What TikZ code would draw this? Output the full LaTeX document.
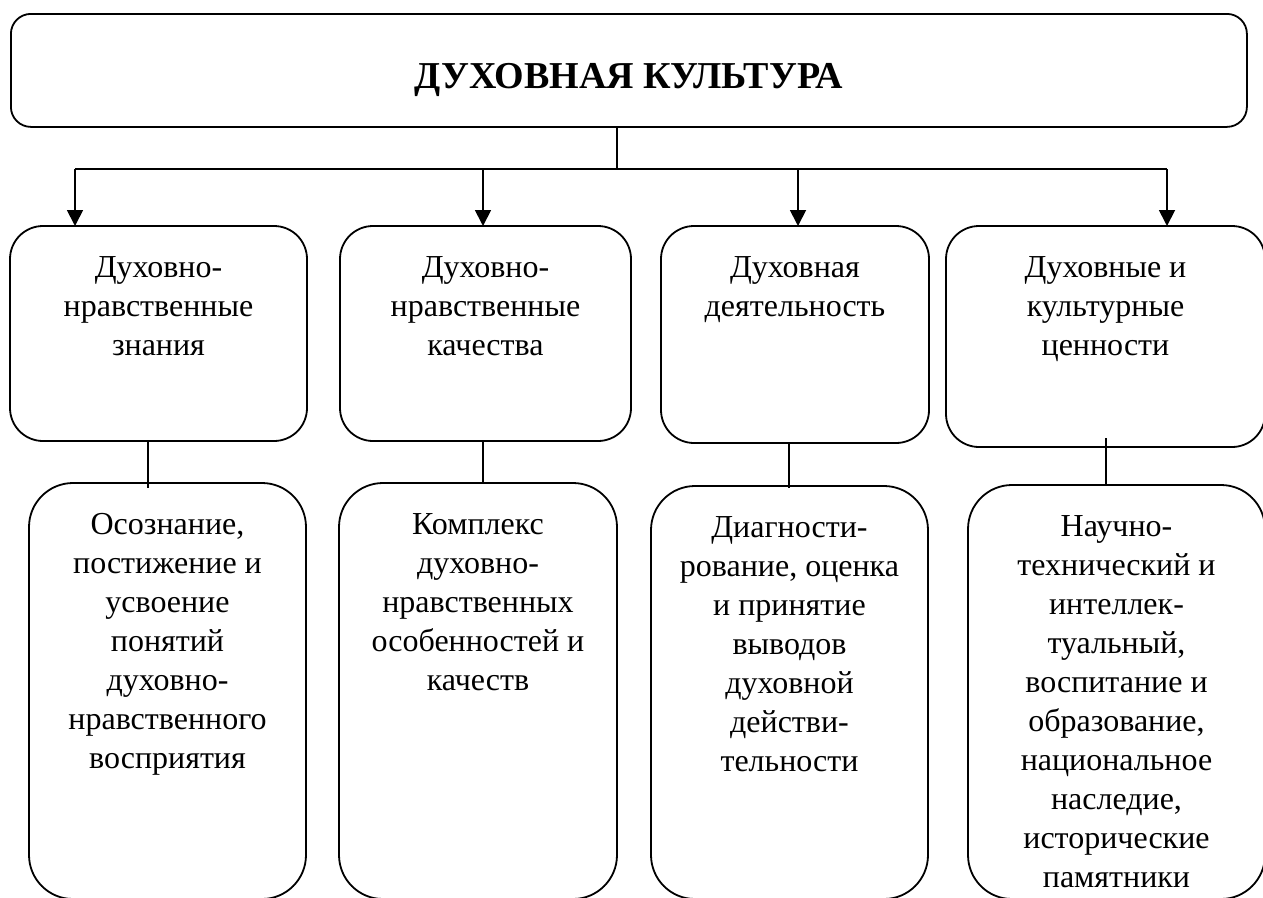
\documentclass[tikz,border=0pt]{standalone}
\usepackage{fontspec}
\setmainfont{Liberation Serif}
\usetikzlibrary{arrows.meta}
\newcommand{\cellcontent}[3]{\parbox[t][#2][t]{#1}{\centering\rule{0pt}{51pt}#3}}
\begin{document}
\begin{tikzpicture}[x=1pt,y=-1pt,
  lw/.style={line width=1.8pt},
  cellbox/.style={draw, lw, inner sep=0pt, outer sep=0pt, anchor=north west,
    font=\fontsize{32}{39}\selectfont},
  upper/.style={cellbox, rounded corners=33pt},
  lower/.style={cellbox, rounded corners=44pt},
  arr/.style={lw, -{Triangle[length=16pt,width=16pt]}},
  link/.style={lw}]
\useasboundingbox (0,0) rectangle (1263,897);
% title
\node[draw, lw, rounded corners=20pt, inner sep=0pt, anchor=north west,
  minimum width=1236pt, minimum height=113pt,
  font=\fontsize{38}{44}\selectfont\bfseries] (top) at (10,13) {\raisebox{-18pt}[0pt][0pt]{ДУХОВНАЯ КУЛЬТУРА}};
% upper row
\node[upper] (b1) at (10,226) {\cellcontent{297pt}{215pt}{Духовно-\\нравственные\\знания}};
\node[upper] (b2) at (340,226) {\cellcontent{291pt}{215pt}{Духовно-\\нравственные\\качества}};
\node[upper] (b3) at (661,226) {\cellcontent{268pt}{217pt}{Духовная\\деятельность}};
\node[upper] (b4) at (946,226) {\cellcontent{319pt}{221pt}{Духовные и\\культурные\\ценности}};
% lower row
\node[lower] (b5) at (29,483) {\cellcontent{277pt}{416pt}{Осознание,\\постижение и\\усвоение\\понятий\\духовно-\\нравственного\\восприятия}};
\node[lower] (b6) at (339,483) {\cellcontent{278pt}{416pt}{Комплекс\\духовно-\\нравственных\\особенностей и\\качеств}};
\node[lower] (b7) at (651,486) {\cellcontent{277pt}{413pt}{Диагности-\\рование, оценка\\и принятие\\выводов\\духовной\\действи-\\тельности}};
\node[lower] (b8) at (968,485) {\cellcontent{297pt}{414pt}{Научно-\\технический и\\интеллек-\\туальный,\\воспитание и\\образование,\\национальное\\наследие,\\исторические\\памятники}};
% connectors
\coordinate (j) at (617,169);
\coordinate (a1) at (75,169);
\coordinate (a2) at (483,169);
\coordinate (a3) at (798,169);
\coordinate (a4) at (1167,169);
\draw[link] (top.south -| j) -- (j);
\draw[link] (a1) -- (a4);
\draw[arr] (a1) -- (a1 |- b1.north);
\draw[arr] (a2) -- (a2 |- b2.north);
\draw[arr] (a3) -- (a3 |- b3.north);
\draw[arr] (a4) -- (a4 |- b4.north);
\coordinate (v1) at (148,0);
\coordinate (v2) at (483,0);
\coordinate (v3) at (789,0);
\coordinate (v4) at (1106,0);
\draw[link, shorten >=-5pt] (v1 |- b1.south) -- (v1 |- b5.north);
\draw[link] (v2 |- b2.south) -- (v2 |- b6.north);
\draw[link, shorten >=-2pt] (v3 |- b3.south) -- (v3 |- b7.north);
\draw[link, shorten <=-9pt] (v4 |- b4.south) -- (v4 |- b8.north);
\end{tikzpicture}
\end{document}
